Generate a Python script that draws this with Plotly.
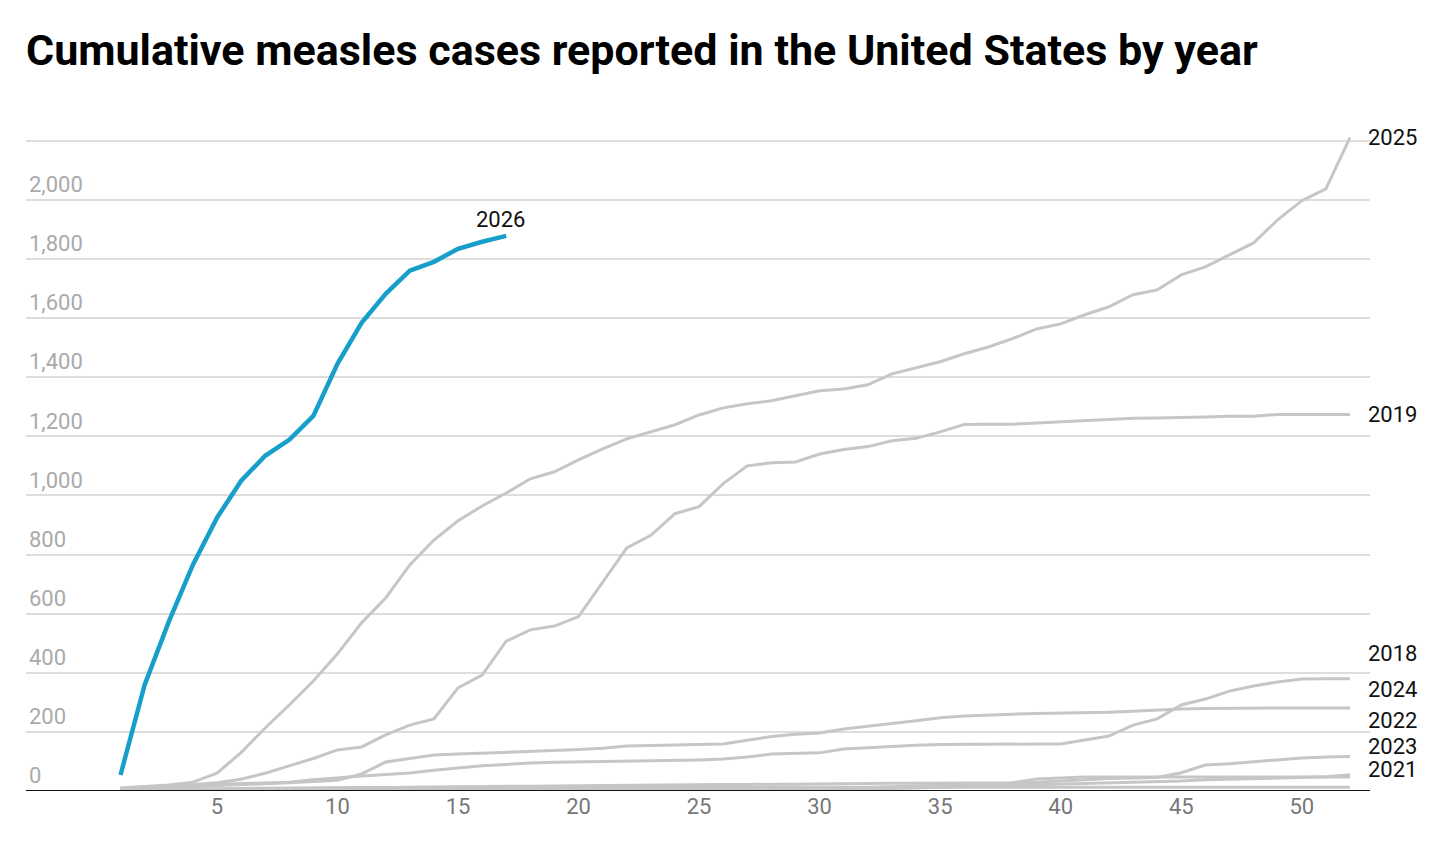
import plotly.graph_objects as go

weeks = list(range(1, 53))
w2026 = list(range(1, 18))
y2026 = [54, 359, 572, 765, 924, 1049, 1134, 1188, 1269, 1445, 1584, 1682, 1760, 1790, 1834, 1858, 1878]
y2025 = [10, 15, 20, 30, 60, 130, 213, 291, 372, 464, 569, 653, 765, 849, 914, 964, 1008, 1056, 1080, 1120,
         1157, 1191, 1215, 1239, 1272, 1296, 1310, 1320, 1337, 1354, 1360, 1374, 1411, 1431, 1452, 1479, 1502,
         1530, 1563, 1580, 1611, 1638, 1679, 1695, 1746, 1773, 1814, 1854, 1932, 1997, 2037, 2210]
y2019 = [10, 15, 18, 22, 28, 40, 60, 85, 110, 139, 149, 190, 223, 244, 349, 392, 507, 545, 558, 590,
         707, 822, 865, 938, 962, 1040, 1100, 1110, 1113, 1140, 1155, 1165, 1185, 1193, 1215, 1240, 1241,
         1241, 1245, 1249, 1252, 1255, 1261, 1262, 1263, 1265, 1268, 1268, 1274, 1274, 1274, 1274]
y2018 = [8, 12, 15, 18, 22, 25, 28, 30, 38, 45, 51, 56, 61, 70, 78, 85, 90, 95, 97, 98,
         99, 100, 101, 102, 105, 108, 115, 125, 127, 129, 142, 147, 152, 155, 157, 158, 158, 158, 159, 159,
         172, 186, 223, 244, 291, 311, 338, 355, 369, 379, 380, 380]
y2024 = [5, 8, 12, 15, 18, 20, 24, 28, 32, 36, 58, 98, 110, 122, 125, 128, 130, 132, 135, 140,
         145, 152, 154, 156, 158, 159, 172, 184, 192, 196, 210, 218, 228, 238, 248, 254, 258, 260, 262, 263,
         264, 266, 270, 274, 277, 279, 280, 281, 281, 281, 281, 281]
y2022 = [1, 1, 2, 2, 2, 3, 3, 3, 3, 4, 4, 4, 4, 5, 5, 5, 5, 5, 6, 6,
         6, 6, 7, 7, 7, 8, 8, 8, 9, 10, 10, 12, 14, 16, 18, 20, 22, 26, 30, 34,
         40, 42, 44, 46, 62, 88, 92, 98, 105, 112, 115, 117]
y2023 = [2, 3, 3, 4, 4, 5, 6, 8, 8, 10, 10, 12, 12, 14, 14, 15, 16, 16, 18, 18,
         19, 20, 20, 20, 22, 22, 22, 23, 23, 24, 25, 25, 26, 26, 27, 27, 28, 28, 41, 44,
         47, 47, 47, 47, 47, 47, 47, 47, 47, 47, 47, 47]
y2021 = [0, 0, 1, 1, 1, 1, 1, 1, 2, 2, 2, 2, 2, 2, 2, 2, 2, 3, 3, 3,
         3, 3, 3, 3, 4, 4, 4, 4, 5, 5, 5, 6, 8, 10, 12, 14, 16, 18, 20, 22,
         24, 26, 28, 30, 34, 38, 40, 42, 44, 46, 48, 55]
y2020 = [3, 5, 6, 7, 8, 9, 10, 10, 11, 11, 12, 12, 13, 13, 13, 13, 13, 13, 13, 13,
         13, 13, 13, 13, 13, 13, 13, 13, 13, 13, 13, 13, 13, 13, 13, 13, 13, 13, 13, 13,
         13, 13, 13, 13, 13, 13, 13, 13, 13, 13, 13, 13]

gray_series = [("2020", y2020), ("2021", y2021), ("2023", y2023), ("2022", y2022),
               ("2024", y2024), ("2018", y2018), ("2019", y2019), ("2025", y2025)]
label_y = {"2025": 2210, "2019": 1274, "2018": 464, "2024": 342, "2022": 240,
           "2023": 149, "2021": 74, "2020": -6}

GRAY = "#c6c6c6"
BLUE = "#179fca"
fig = go.Figure()
for name, ys in gray_series:
    fig.add_trace(go.Scatter(x=weeks, y=ys, mode="lines", line=dict(color=GRAY, width=3),
                             hoverinfo="skip", showlegend=False, cliponaxis=False))
fig.add_trace(go.Scatter(x=w2026, y=y2026, mode="lines", line=dict(color=BLUE, width=4.5),
                         showlegend=False))

for name, yv in label_y.items():
    fig.add_annotation(x=52, y=yv, text=name, showarrow=False, xanchor="left", xshift=16,
                       font=dict(size=22, color="#111", family="Roboto"))
fig.add_annotation(x=w2026[-1], y=y2026[-1], text="2026", showarrow=False, xanchor="center",
                   yanchor="bottom", yshift=2, xshift=-6, font=dict(size=22, color="#111", family="Roboto"))

fig.update_layout(
    width=1456, height=848,
    margin=dict(l=18, r=94, t=109, b=65, autoexpand=False),
    plot_bgcolor="white", paper_bgcolor="white",
    font=dict(family="Roboto"),
    title=dict(text="<b>Cumulative measles cases reported in the United States by year</b>",
               x=0, xref="paper", xanchor="left", y=1 - 42 / 848, yanchor="middle",
               pad=dict(l=0, t=0, b=0, r=0),
               font=dict(size=43, color="#000", family="Roboto")),
    xaxis=dict(range=[-2.92, 52.83], tickvals=[5, 10, 15, 20, 25, 30, 35, 40, 45, 50],
               showgrid=False, zeroline=False, showline=False, ticks="", automargin=False,
               tickfont=dict(size=22, color="#777")),
    yaxis=dict(range=[0, 2280], tickvals=list(range(0, 2201, 200)), tickformat=",",
               ticklabelposition="inside top", showgrid=True, gridcolor="#dddddd", gridwidth=1.5,
               zeroline=False, showline=False, ticks="", automargin=False,
               tickfont=dict(size=22, color="#aaaaaa")),
)
fig.add_shape(type="line", xref="paper", yref="y", x0=0, x1=1, y0=0, y1=0,
              line=dict(color="#111", width=2))
fig.write_html("out.html")
